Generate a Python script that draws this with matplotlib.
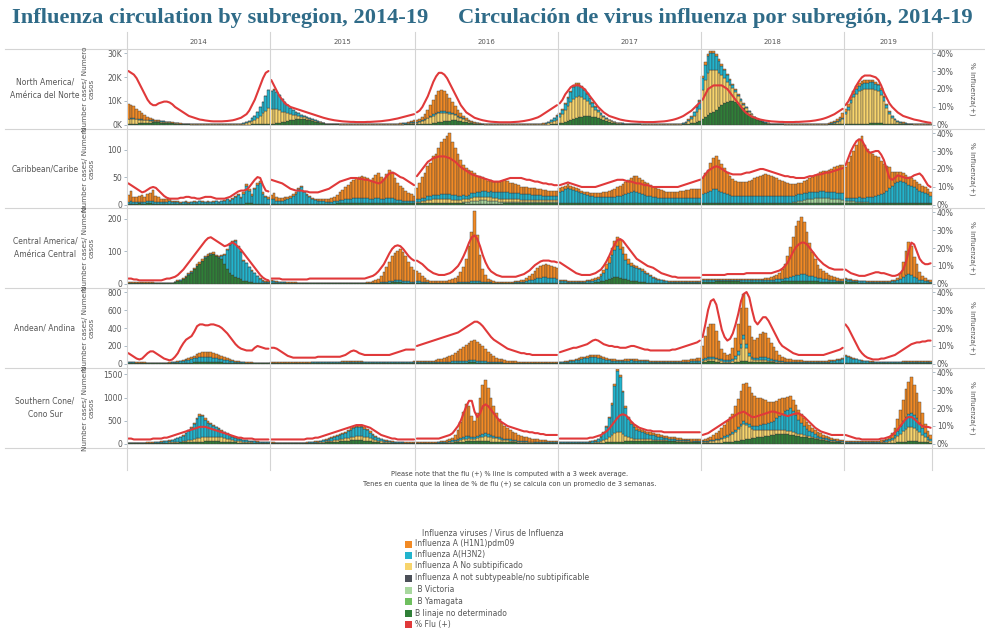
import numpy as np
import matplotlib.pyplot as plt
from matplotlib.lines import Line2D
from matplotlib.patches import Rectangle

# ---------------- data (weekly) ----------------
years = ['2014', '2015', '2016', '2017', '2018', '2019']
weeks_per_year = [52, 53, 52, 52, 52, 32]
week_ticks = [3, 7, 11, 15, 19, 23, 27, 31, 35, 39, 43, 47, 51]

# North America, thousands of cases
na_aunk = [
    [2.0,2.0,1.9,1.7,1.5,1.3,1.1,0.9,0.8,0.6, 0.5,0.5,0.4,0.4,0.3,0.3,0.2,0.2,0.2,0.1, 0.1,0.1,0.1,0.1,0.1,0.1,0.1,0.1,0.1,0.1, 0.1,0.1,0.1,0.1,0.1,0.1,0.1,0.1,0.1,0.1, 0.2,0.3,0.4,0.6,0.9,1.3,1.9,2.7,3.6,4.6, 5.6,6.4],
    [6.0,6.2,5.8,5.2,4.5,3.8,3.1,2.5,2.0,1.6, 1.3,1.0,0.8,0.6,0.5,0.4,0.3,0.3,0.2,0.2, 0.1,0.1,0.1,0.1,0.1,0.1,0.1,0.1,0.1,0.1, 0.1,0.1,0.1,0.1,0.1,0.1,0.1,0.1,0.1,0.1, 0.1,0.1,0.1,0.1,0.1,0.2,0.2,0.3,0.3,0.4, 0.5,0.6,0.7],
    [0.8,1.0,1.3,1.7,2.2,2.7,3.2,3.6,3.8,3.8, 3.6,3.3,2.9,2.5,2.1,1.7,1.4,1.1,0.8,0.6, 0.4,0.3,0.3,0.2,0.2,0.1,0.1,0.1,0.1,0.1, 0.1,0.1,0.1,0.1,0.1,0.1,0.1,0.1,0.1,0.1, 0.1,0.1,0.1,0.1,0.1,0.2,0.3,0.4,0.6,0.9, 1.3,1.8],
    [2.5,3.5,4.8,6.2,7.5,8.5,9.0,8.8,8.2,7.3, 6.2,5.1,4.1,3.2,2.5,1.9,1.4,1.0,0.7,0.5, 0.4,0.3,0.2,0.2,0.2,0.1,0.1,0.1,0.1,0.1, 0.1,0.1,0.1,0.1,0.1,0.1,0.1,0.1,0.1,0.1, 0.1,0.1,0.1,0.1,0.1,0.4,0.6,1.0,1.7,2.6, 3.8,5.0],
    [12,15.5,17.5,18,17.5,16.5,14.5,12.5,10.5,8.5, 6.8,5.3,4.0,3.0,2.2,1.6,1.2,0.9,0.7,0.5, 0.4,0.3,0.3,0.2,0.2,0.1,0.1,0.1,0.1,0.1, 0.1,0.1,0.1,0.1,0.1,0.1,0.1,0.1,0.1,0.1, 0.1,0.1,0.1,0.1,0.1,0.2,0.3,0.4,0.6,0.9, 1.3,1.8],
    [4,6,8.5,11,12.5,13.5,14,14.5,14.5,14.5, 14.5,14,13.5,12,9.5,6.5,4,2.5,1.5,1, 0.7,0.5,0.4,0.3,0.3,0.2,0.2,0.2,0.1,0.1, 0.1,0.1],
]
na_h3 = [
    [0.3,0.3,0.3,0.3,0.2,0.2,0.2,0.2,0.2,0.2, 0.1,0.1,0.1,0.1,0.1,0.1,0.1,0.1,0.1,0.1, 0,0,0,0,0,0,0,0,0,0, 0,0,0,0,0,0,0,0,0,0, 0.1,0.2,0.3,0.5,0.8,1.2,1.8,2.6,3.6,4.8, 6.2,7.6],
    [7.5,7.8,7.2,6.3,5.3,4.3,3.4,2.6,2.0,1.5, 1.1,0.8,0.6,0.4,0.3,0.2,0.2,0.1,0.1,0.1, 0,0,0,0,0,0,0,0,0,0, 0,0,0,0,0,0,0,0,0,0, 0,0,0,0,0,0.1,0.1,0.1,0.2,0.2, 0.3,0.3,0.4],
    [0.3,0.3,0.3,0.4,0.4,0.5,0.5,0.6,0.6,0.6, 0.6,0.5,0.5,0.4,0.4,0.3,0.3,0.2,0.2,0.2, 0.1,0.1,0.1,0.1,0.1,0,0,0,0,0, 0,0,0,0,0,0,0,0,0,0, 0,0,0,0,0,0.1,0.2,0.3,0.5,0.8, 1.2,1.7],
    [1.2,1.8,2.6,3.4,4.2,4.8,5.0,4.8,4.3,3.7, 3.0,2.3,1.7,1.2,0.9,0.6,0.4,0.3,0.2,0.2, 0.1,0.1,0.1,0.1,0.1,0,0,0,0,0, 0,0,0,0,0,0,0,0,0,0, 0,0,0,0,0,0.2,0.4,0.7,1.1,1.7, 2.4,3.2],
    [5,6.5,7.2,7.2,6.8,6,5,4.1,3.3,2.6, 2.0,1.5,1.1,0.8,0.6,0.4,0.3,0.2,0.2,0.1, 0.1,0.1,0.1,0.1,0.1,0,0,0,0,0, 0,0,0,0,0,0,0,0,0,0, 0,0,0,0,0,0.1,0.1,0.2,0.3,0.4, 0.5,0.7],
    [0.8,1.0,1.3,1.6,1.9,2.2,2.4,2.5,2.6,2.6, 2.6,2.5,2.3,2.0,1.6,1.2,0.9,0.6,0.4,0.3, 0.2,0.2,0.1,0.1,0.1,0.1,0.1,0.1,0.1,0.1, 0.1,0.1],
]
na_h1 = [
    [6.0,5.6,5.0,4.2,3.4,2.6,1.9,1.3,0.9,0.6, 0.4,0.3,0.2,0.2,0.1,0.1,0.1,0.1,0.1,0.1, 0,0,0,0,0,0,0,0,0,0, 0,0,0,0,0,0,0,0,0,0, 0,0,0,0,0,0,0,0,0,0, 0,0],
    [0.2,0.2,0.2,0.1,0.1,0.1,0.1,0.1,0.1,0.1, 0,0,0,0,0,0,0,0,0,0, 0,0,0,0,0,0,0,0,0,0, 0,0,0,0,0,0,0,0,0,0, 0,0,0,0,0,0.05,0.1,0.1,0.2,0.2, 0.3,0.4,0.5],
    [0.7,1.0,1.5,2.2,3.2,4.5,6.0,7.5,8.5,8.8, 8.3,7.3,6.0,4.6,3.4,2.4,1.7,1.2,0.8,0.5, 0.3,0.2,0.2,0.1,0.1,0,0,0,0,0, 0,0,0,0,0,0,0,0,0,0, 0,0,0,0,0,0.1,0.1,0.1,0.1,0.2, 0.2,0.3],
    [0.3,0.3,0.4,0.4,0.5,0.5,0.5,0.5,0.4,0.4, 0.3,0.3,0.2,0.2,0.1,0,0,0,0,0, 0,0,0,0,0,0,0,0,0,0, 0,0,0,0,0,0,0,0,0,0, 0,0,0,0,0,0.1,0.1,0.1,0.2,0.2, 0.3,0.3],
    [0.8,0.9,1.0,1.0,1.0,0.9,0.8,0.7,0.6,0.5, 0.4,0.3,0.3,0.2,0.2,0.1,0.1,0.1,0.1,0.1, 0,0,0,0,0,0,0,0,0,0, 0,0,0,0,0,0,0,0,0,0, 0,0,0,0,0,0.1,0.2,0.3,0.5,0.8, 1.2,1.7],
    [1.5,1.4,1.3,1.2,1.2,1.2,1.2,1.2,1.2,1.1, 1.0,0.9,0.7,0.6,0.5,0.4,0.3,0.2,0.1,0.1, 0.1,0.1,0,0,0,0,0,0,0,0, 0,0],
]
na_bnd = [
    [0.3,0.4,0.5,0.6,0.7,0.8,0.9,1.0,1.0,1.1, 1.1,1.1,1.0,1.0,0.9,0.8,0.7,0.6,0.5,0.4, 0.3,0.25,0.2,0.15,0.1,0.1,0.1,0.1,0.1,0.1, 0.1,0.1,0.1,0.1,0.1,0.1,0.1,0.1,0.1,0.1, 0.1,0.1,0.1,0.1,0.15,0.2,0.2,0.25,0.3,0.35, 0.4,0.5],
    [0.5,0.6,0.7,0.9,1.1,1.4,1.7,2.0,2.2,2.4, 2.5,2.5,2.4,2.2,2.0,1.7,1.4,1.1,0.9,0.7, 0.5,0.4,0.3,0.25,0.2,0.15,0.1,0.1,0.1,0.1, 0.1,0.1,0.1,0.1,0.1,0.1,0.1,0.1,0.1,0.1, 0.1,0.1,0.1,0.1,0.1,0.1,0.1,0.15,0.15,0.2, 0.2,0.25,0.3],
    [0.2,0.2,0.3,0.4,0.5,0.6,0.7,0.9,1.1,1.3, 1.5,1.7,1.8,1.9,1.9,1.8,1.6,1.4,1.1,0.9, 0.7,0.5,0.4,0.3,0.2,0.1,0.1,0.1,0.1,0.1, 0.1,0.1,0.1,0.1,0.1,0.1,0.1,0.1,0.1,0.1, 0.1,0.1,0.1,0.1,0.1,0.1,0.1,0.1,0.1,0.2, 0.2,0.3],
    [0.8,1.0,1.3,1.6,2.0,2.4,2.8,3.2,3.5,3.7, 3.8,3.7,3.5,3.2,2.8,2.4,2.0,1.6,1.3,1.0, 0.8,0.6,0.5,0.4,0.3,0.2,0.2,0.2,0.2,0.2, 0.1,0.1,0.1,0.1,0.1,0.1,0.1,0.1,0.1,0.1, 0.1,0.1,0.1,0.1,0.1,0.2,0.3,0.5,0.7,1.0, 1.4,1.8],
    [2.5,3.2,4.0,4.8,5.6,6.4,7.3,8.2,9.0,9.6, 10.0,10.0,9.6,8.9,8.0,6.9,5.8,4.7,3.7,2.8, 2.1,1.5,1.1,0.8,0.6,0.4,0.3,0.3,0.2,0.2, 0.1,0.1,0.1,0.1,0.1,0.1,0.1,0.1,0.1,0.1, 0.1,0.1,0.1,0.1,0.1,0.1,0.2,0.2,0.3,0.4, 0.5,0.6],
    [0.4,0.4,0.5,0.5,0.5,0.6,0.6,0.6,0.6,0.7, 0.7,0.7,0.7,0.7,0.6,0.6,0.5,0.5,0.4,0.4, 0.3,0.3,0.2,0.2,0.2,0.1,0.1,0.1,0.1,0.1, 0.1,0.1],
]
na_pct = [
    [30,29,28,26,23,20,17,14,12,11, 11,12,12.5,13,13,12.5,11.5,10,9,8, 7,6,5,4.5,4,3.5,3,2.8,2.5,2.3, 2.1,2,2,2,2,2.1,2.2,2.4,2.6,3, 3.5,4,5,6,8,11,14,18,22,26, 29,30],
    [25,22,19,16,14,12,11,10,9.5,9, 8.5,8,7.5,7,6.5,6,5.5,5,4.5,4, 3.6,3.2,2.9,2.6,2.4,2.2,2,1.9,1.8,1.7, 1.7,1.6,1.6,1.6,1.6,1.7,1.7,1.8,1.9,2, 2.1,2.3,2.5,2.7,3,3.3,3.6,4,4.4,4.8, 5.2,5.6,6],
    [7,8,10,13,16,20,24,27,29,29, 28,26,23,20,17,14,11,9,7,6, 5,4,3.5,3,2.6,2.3,2,1.8,1.7,1.6, 1.5,1.5,1.5,1.5,1.5,1.6,1.7,1.8,2,2.2, 2.5,2.8,3.2,3.7,4.2,5,6,7,8,9, 10,11],
    [12,14,17,19,21,22,22,22,21,20, 18,16,14,12,10,8.5,7,6,5,4.5, 4,3.5,3,2.7,2.4,2.2,2,1.9,1.8,1.7, 1.7,1.6,1.6,1.6,1.6,1.7,1.8,1.9,2,2.2, 2.5,2.8,3.2,3.7,4.3,5,6,7,8,9.5, 11,12.5],
    [14,17,20,21,22,22,22,22,21,20, 18,16,14,12,10,8,6.5,5.5,4.5,4, 3.5,3,2.7,2.4,2.2,2,1.9,1.8,1.7,1.7, 1.6,1.6,1.6,1.6,1.7,1.7,1.8,1.9,2,2.1, 2.3,2.5,2.8,3.1,3.5,4,4.6,5.3,6,7, 8,9],
    [11,13,16,19,22,24.5,26.5,27.5,27.5,27.5, 27,26.5,25,22,18,15,12,10,8.5,7, 6,5,4.5,4,3.5,3,2.7,2.4,2,1.7, 1.4,1.2],
]

# Caribbean, cases
cb_h1 = [
    [12,18,10,8,10,12,9,11,15,20, 10,8,6,5,4,3,2,2,2,1, 1,1,1,1,1,1,1,1,1,1, 1,1,1,1,1,1,1,1,2,2, 2,2,3,3,3,3,3,4,4,3, 3,3],
    [8,10,7,6,5,5,4,4,3,3, 3,3,2,2,2,2,2,2,3,3, 4,5,6,8,10,14,18,22,26,30, 34,36,38,40,38,36,34,38,42,45, 40,36,44,50,48,38,30,26,22,18, 14,12,10],
    [20,28,38,45,55,60,70,75,85,95, 100,105,110,95,85,75,65,55,50,45, 40,35,30,28,25,22,20,20,18,18, 18,20,22,20,18,18,16,15,14,14, 13,12,12,12,11,10,10,10,9,9, 8,8],
    [8,8,7,7,6,6,6,5,5,5, 5,5,5,6,6,7,8,9,10,12, 14,16,18,20,22,24,26,28,30,28, 26,24,22,20,18,16,15,14,13,12, 12,12,12,12,13,13,14,14,15,15, 16,16],
    [30,35,40,50,55,60,55,50,45,40, 35,30,28,26,25,25,26,28,30,32, 34,36,38,40,38,36,34,32,30,28, 26,24,22,20,20,20,20,22,24,26, 28,30,32,34,36,38,40,42,45,48, 50,52],
    [55,65,75,85,95,105,112,95,88,82, 78,72,68,60,52,45,38,25,20,18, 16,15,15,14,14,13,12,12,11,10, 10,8],
]
cb_h3 = [
    [4,5,3,4,3,4,3,5,4,5, 4,4,3,4,5,6,4,5,4,3, 4,5,3,4,5,4,6,5,4,5, 4,5,6,4,5,7,8,6,9,12, 16,10,18,32,22,14,26,34,38,18, 12,9],
    [8,9,6,5,6,7,8,10,14,18, 26,30,22,16,12,9,7,6,5,5, 4,4,4,5,5,6,6,7,7,8, 8,8,9,9,8,8,7,7,8,8, 7,7,8,9,8,7,6,6,5,5, 5,4,4],
    [5,5,6,6,7,7,8,8,8,9, 9,10,10,9,9,8,8,8,7,7, 8,8,9,9,10,10,10,11,11,12, 12,12,13,12,12,12,11,11,10,10, 10,10,9,9,9,9,8,8,8,8, 8,8],
    [20,22,25,28,26,24,22,20,18,16, 15,14,13,12,12,12,12,12,12,12, 12,13,14,15,16,18,20,22,20,18, 16,15,14,13,12,11,10,10,9,9, 9,9,9,9,9,10,10,10,10,10, 10,10],
    [15,18,20,22,25,25,22,20,18,16, 14,13,12,12,12,12,12,12,12,12, 12,12,12,12,12,12,12,12,12,12, 12,12,12,12,12,12,12,12,12,12, 12,12,12,12,12,12,12,12,12,12, 12,12],
    [5,5,6,6,7,8,8,8,9,10, 10,12,14,16,18,22,26,30,35,38, 40,38,35,32,30,28,25,22,20,18, 15,12],
]
cb_aunk = [
    [],
    [],
    [3,3,4,4,5,5,6,6,6,6, 6,6,6,5,5,5,5,5,5,5, 6,6,6,6,6,6,6,6,5,5, 5,5,5,5,5,5,5,5,4,4, 4,4,4,4,4,4,4,4,4,4, 4,4],
    [],
    [],
    [],
]
cb_bvic = [
    [],
    [],
    [0,0,0,0,0,0,0,0,0,0, 0,0,0,0,0,0,1,2,3,4, 5,6,6,7,7,7,6,6,5,5, 4,4,3,3,2,2,1,1,1,1, 1,1,1,1,1,1,1,1,1,1, 1,1],
    [],
    [1,1,1,1,1,1,1,1,1,1, 1,1,1,1,1,1,1,1,1,1, 1,1,1,1,1,1,1,1,1,1, 1,1,1,2,3,4,5,6,7,8, 8,9,9,10,10,9,9,8,8,7, 7,6],
    [5,5,4,4,3,3,2,2,2,1, 1,1,1,1,1,1,1,1,1,1, 1,1,1,1,1,1,1,1,1,1, 1,1],
]
cb_bnd = [
    [2,2,2,2,3,2,2,3,3,2, 2,2,2,1,1,1,1,1,1,1, 1,1,1,1,1,1,1,1,1,1, 1,1,1,1,2,1,2,2,2,2, 2,2,2,3,3,3,2,2,2,2, 2,2],
    [2,2,2,2,2,2,2,2,2,2, 2,2,2,2,2,2,2,2,2,2, 2,2,2,2,3,3,3,3,3,3, 4,4,4,4,4,4,4,4,4,4, 4,4,4,4,4,3,3,3,3,3, 3,3,3],
    [3,3,3,3,4,4,4,4,4,4, 4,4,4,4,4,4,3,3,2,2, 2,2,2,2,2,2,2,2,2,2, 2,2,3,3,3,3,4,4,4,4, 4,4,4,4,4,4,4,4,4,4, 4,4],
    [3,3,3,3,3,3,3,3,3,3, 3,3,3,3,3,3,3,3,3,3, 3,3,3,3,3,3,3,3,3,3, 3,3,3,3,3,3,3,3,3,3, 3,3,3,3,3,3,3,3,3,3, 3,3],
    [3,3,3,3,3,3,3,3,3,3, 3,3,3,3,3,3,3,3,3,3, 3,3,3,3,3,3,3,3,3,3, 3,3,3,3,3,3,3,3,3,3, 3,3,3,3,3,3,3,3,3,3, 3,3],
    [3,3,3,3,3,3,3,3,3,3, 3,3,3,3,3,3,3,3,3,3, 3,3,3,3,3,3,3,3,3,3, 3,3],
]
cb_pct = [
    [12,11,10,9,8,7,7.5,8.5,9.5,10, 9.5,8,6.5,5,4,3.5,3.5,3.5,3.5,4, 4,4.5,4.5,4,4,3.5,3.5,4,4.5,4.5, 4.5,4,3.5,3.5,3.5,3.5,4,4.5,5.5,6.5, 7.5,8,8,8.5,10,12,14,15.5,15,11, 8,7.5],
    [14,13.5,13,12.5,12,11,10,9,8.5,8, 8,8,7.5,7.5,7,7,7,7,7.5,8, 8.5,9,10,11,12,13,13.5,14,14.5,15, 15,15,14.5,14.5,14,14,13.5,13,12.5,12, 12.5,14,16,17.5,18,17.5,16.5,15.5,15,14, 13,12,11],
    [16,18,20,22,24,25,26,26.5,27,27, 27,26.5,26,25,24,22.5,21,20,19,18, 17,16.5,16,15.5,15,14.5,14,13.5,13,13, 13,13.5,14,14.5,15,15,15,15,15,14.5, 14,14,13.5,13,13,12.5,12,12,11.5,11.5, 11,11],
    [11,11.5,12,12.5,12,11.5,11,10.5,10,10, 10,10,10,10,10.5,11,11.5,12,12.5,13, 13.5,14,14,14,13.5,13,13,12.5,12,12, 11.5,11,11,10.5,10,10,10,10,10,10, 10,10,10,10,10.5,11,11.5,12,12.5,13, 13.5,14],
    [15,17,19,20,21,21.5,21,20,19,18, 17.5,17,17,17,17,17.5,18,18,18.5,19, 19.5,20,20,19.5,19,18.5,18,17.5,17,16.5, 16,16,15.5,15.5,15,15,15,15,15.5,16, 16,16.5,17,17,17.5,18,18,18.5,19,19.5, 20,20.5],
    [22,26,30,33,35.5,36.5,36,33,30,29, 29.5,30,30,28,25,20,15,14,15,16.5, 16,15.5,15,15,15.5,16.5,17,17.5,16,13.5, 11,10],
]

# Central America, cases
ca_h1 = [
    [3,3,2,2,2,1,1,1,1,1, 1,1,1,1,1,1,1,1,2,2, 2,3,3,3,4,4,5,5,5,5, 4,4,4,3,3,3,3,3,3,3, 2,2,2,2,2,2,2,2,2,2, 2,2],
    [1,1,1,1,1,1,1,1,1,1, 1,1,1,1,1,1,1,1,1,1, 1,1,1,1,1,1,1,1,1,1, 1,1,1,1,1,2,3,5,8,12, 20,30,45,60,75,85,90,95,88,75, 60,45,35],
    [30,25,18,12,8,6,5,5,5,5, 5,6,8,10,15,20,30,45,70,110, 150,215,140,80,40,20,10,6,4,3, 3,3,3,3,3,3,3,4,5,6, 8,12,18,25,30,35,38,40,38,36, 34,32],
    [4,4,4,3,3,3,3,3,3,3, 3,3,4,5,6,8,10,14,18,22, 25,28,26,22,18,14,10,8,6,5, 4,4,3,3,3,3,2,2,2,2, 2,2,2,2,2,2,2,2,2,2, 2,2],
    [2,2,2,2,2,2,2,2,2,2, 2,2,2,2,2,2,2,2,3,3, 3,4,4,5,6,8,10,14,20,30, 45,65,90,120,150,165,175,160,130,100, 75,55,40,30,25,20,15,12,10,8, 6,5],
    [3,3,3,2,2,2,2,2,2,2, 2,2,2,2,2,2,2,3,4,8, 20,45,75,100,90,60,45,25,12,8, 5,4],
]
ca_h3 = [
    [2,2,2,2,2,2,2,2,2,2, 1,1,1,1,1,1,1,1,1,1, 1,1,1,1,1,1,1,1,1,1, 1,1,1,2,10,30,60,85,100,110, 95,85,60,55,45,35,28,20,12,8, 5,4],
    [8,6,5,4,3,3,2,2,2,2, 1,1,1,1,1,1,1,1,1,1, 1,1,1,1,1,1,1,1,1,1, 1,1,1,1,1,1,1,1,1,2, 2,3,3,4,5,6,6,7,6,5, 5,4,4],
    [6,5,4,3,3,2,2,2,2,2, 2,2,2,2,2,3,3,3,4,4, 5,5,5,4,4,3,3,2,2,2, 2,2,2,2,2,2,3,3,4,5, 6,8,10,12,14,15,16,16,15,14, 13,12],
    [5,5,5,4,4,4,4,4,4,4, 5,5,6,8,10,15,22,35,50,70, 85,95,90,75,60,50,45,42,40,38, 35,30,25,20,15,12,10,8,6,5, 4,4,3,3,3,3,3,3,3,3, 3,3],
    [6,6,6,5,5,5,5,5,5,5, 5,5,5,5,5,5,5,5,6,6, 6,6,6,6,6,6,7,7,8,8, 9,10,12,14,16,18,20,20,18,16, 14,12,11,10,9,8,7,6,6,5, 5,5],
    [6,5,5,4,4,4,4,4,4,4, 4,4,4,4,4,4,4,5,6,8, 12,18,22,25,22,18,14,10,8,6, 5,4],
]
ca_bnd = [
    [2,2,2,2,2,2,2,2,2,2, 2,2,2,2,2,2,2,5,8,10, 15,20,28,35,45,55,60,70,80,85, 90,92,85,80,75,60,45,35,28,22, 18,14,10,8,6,5,4,3,3,2, 2,2],
    [2,2,2,2,2,2,2,2,2,2, 2,2,2,2,2,2,2,2,2,2, 2,2,2,2,2,2,2,2,2,2, 2,2,2,2,2,2,2,2,2,2, 3,3,4,4,5,5,5,5,4,4, 3,3,3],
    [3,3,3,2,2,2,2,2,2,2, 2,2,2,2,2,2,3,3,3,3, 4,4,4,4,3,3,3,3,2,2, 2,2,2,2,2,2,2,2,2,2, 3,3,3,3,4,4,4,4,4,4, 4,4],
    [3,3,3,3,3,3,3,3,3,3, 3,3,4,5,6,8,10,12,15,18, 20,20,18,16,14,12,10,9,8,7, 6,5,4,4,3,3,3,3,3,3, 3,3,3,3,3,3,3,3,3,3, 3,3],
    [6,6,7,7,7,8,8,8,8,8, 8,8,8,8,7,7,7,7,6,6, 6,6,6,6,6,6,6,7,7,8, 8,9,10,10,10,10,10,10,10,9, 9,8,8,7,7,6,6,6,5,5, 5,5],
    [8,7,6,5,5,4,4,4,3,3, 3,3,3,3,3,3,3,3,3,3, 3,3,4,4,4,3,3,3,3,3, 3,3],
]
ca_pct = [
    [3,3,2.5,2.5,2,2,2,2,2,2, 2,2,2,2.5,3,3,3.5,4,5,6.5, 8,10,12,14,16,18,20,22,24,25.5, 26,25,24,23,22,21,21.5,22.5,23,22, 20.5,19,17,15,13,11,9,7,5,3.5, 2.5,2],
    [3,3,3,3,2.5,2.5,2.5,2.5,2.5,2.5, 2.5,2.5,2.5,2.5,3,3,3,3,3,3, 3,3,3,3,3,3,3,3,3,3, 3,3,3,3,3,3.5,4,4.5,5.5,7, 9,11,14,17,19.5,21,21.5,21,19.5,17.5, 15.5,14,13],
    [13,12,11,9.5,8,7,6,5.5,5,5, 5,5.5,6,7,8.5,10,12.5,15.5,19,23, 26,27,25,21,16,12,9,7,6,5, 4.5,4,4,4,4,4,4,4.5,5,5.5, 6.5,7.5,9,10.5,11.5,12.5,13,13,13,12.5, 12.5,12],
    [12,11,10,9,8,7,6,5.5,5,5, 5,5,5.5,6,7,8,10,12.5,15.5,19, 22,24.5,25,24,22,20,18,16,14,13, 12,11,10,9.5,9,8,7,6,5.5,5, 4.5,4,4,3.5,3.5,3.5,3.5,3.5,3.5,3.5, 3.5,3.5],
    [5,5,5,5,5,5,5,5,5,5.5, 5.5,5.5,5.5,5.5,5.5,5.5,6,6,6,6, 6,6,6,6,6,6,6.5,7,7.5,8.5, 10,12,15,18,20.5,22,23,23,22,20, 18,16,14,12.5,11,10,9,8.5,8,8, 8,8],
    [8,7,6,5.5,5,4.5,4.5,4.5,5,5.5, 6,6.5,6.5,6,6,5.5,5,4.5,4.5,5, 6,8,12,18,23,22,18,14,12,11, 11,11.5],
]

# Andean, cases
an_h1 = [
    [5,5,4,4,4,3,3,3,3,3, 3,3,3,3,3,3,4,5,6,8, 10,14,18,24,30,38,45,50,55,55, 55,52,48,42,36,30,24,18,14,10, 8,6,5,4,4,3,3,3,3,3, 3,3],
    [4,4,4,4,4,4,5,5,5,5, 6,6,6,6,6,6,6,6,6,6, 6,6,6,6,6,6,7,8,9,10, 10,10,9,8,7,6,6,6,6,6, 6,6,6,6,6,6,6,7,8,8, 9,9,10],
    [10,10,12,14,16,18,20,25,30,35, 40,50,60,75,90,110,130,150,170,190, 210,220,210,190,170,140,110,85,65,50, 40,32,26,22,18,15,12,10,9,8, 7,7,6,6,6,6,6,6,6,6, 6,6],
    [6,6,7,8,9,10,12,14,16,18, 20,24,28,30,28,24,20,18,16,15, 14,14,14,15,16,17,18,17,16,15, 14,13,12,11,10,10,10,10,10,10, 10,11,12,13,14,16,18,20,22,25, 28,30],
    [150,250,330,370,360,300,200,120,80,60, 70,120,200,300,400,450,400,300,220,200, 220,260,280,270,230,180,140,100,70,50, 40,30,25,20,18,15,14,12,12,12, 12,12,12,12,12,12,12,12,12,12, 12,12],
    [10,8,7,6,5,5,4,4,4,4, 4,4,4,4,4,4,5,5,6,6, 7,8,10,12,14,15,16,16,16,16, 15,15],
]
an_h3 = [
    [8,8,7,6,6,5,5,5,5,5, 5,5,5,5,5,6,8,10,14,18, 22,28,34,40,46,52,56,58,60,58, 55,50,45,40,35,30,26,22,18,15, 12,10,8,7,6,6,5,5,5,5, 5,5],
    [6,6,6,6,6,6,6,6,6,6, 7,7,7,7,8,8,8,8,8,8, 9,9,9,10,10,10,11,12,13,14, 14,14,13,12,11,10,10,10,10,10, 10,10,10,10,10,10,10,10,10,10, 10,10,10],
    [10,10,10,10,10,10,10,12,12,14, 14,16,16,18,18,20,20,22,22,24, 24,24,22,20,18,16,14,12,10,10, 8,8,8,8,8,8,8,8,8,8, 8,8,8,8,8,8,8,8,8,8, 8,8],
    [10,12,14,16,20,24,30,36,42,48, 54,58,60,58,54,48,42,36,32,28, 26,24,24,24,26,28,30,28,26,24, 22,20,18,16,15,14,13,12,12,12, 12,12,12,12,12,13,14,15,16,18, 20,22],
    [20,20,20,20,20,20,20,20,20,20, 20,25,30,35,40,45,40,35,30,30, 30,30,30,30,25,20,18,16,14,12, 10,10,10,10,10,10,10,10,10,10, 10,10,10,10,10,10,12,14,18,24, 30,40],
    [80,70,60,50,40,32,26,22,18,16, 14,12,12,10,10,10,10,10,10,10, 10,10,10,10,10,10,10,10,10,10, 10,10],
]
an_aunk = [
    [],
    [],
    [],
    [],
    [10,20,30,30,30,25,20,15,10,10, 10,20,40,80,150,250,150,60,30,20, 20,20,20,20,15,10,10,8,6,5, 5,5,5,5,5,5,5,5,5,5, 5,5,5,5,5,5,5,5,5,5, 5,5],
    [],
]
an_bnd = [
    [10,10,10,10,9,9,9,8,8,8, 8,8,8,8,8,8,9,10,11,12, 13,14,15,16,17,18,19,20,20,20, 20,20,19,18,17,16,15,14,13,12, 11,10,9,8,8,8,8,8,8,8, 8,8],
    [8,9,8,7,8,9,10,9,8,8, 8,8,8,8,8,9,9,9,9,10, 10,10,10,10,10,10,10,10,10,10, 10,10,9,9,9,9,9,9,8,8, 8,8,8,8,8,8,8,8,8,8, 8,8,8],
    [8,8,8,8,8,8,8,8,8,8, 8,10,10,12,12,14,14,16,16,18, 18,18,16,16,14,14,12,12,10,10, 10,10,8,8,8,8,8,8,8,8, 8,8,8,8,8,8,8,8,8,8, 8,8],
    [8,8,8,8,10,10,12,12,14,14, 16,16,16,16,14,14,12,12,10,10, 10,10,10,10,10,10,10,10,10,10, 10,10,10,10,10,10,10,10,10,10, 10,10,10,10,10,10,10,10,12,12, 14,14],
    [20,25,30,30,30,25,20,15,12,12, 12,15,20,25,30,30,28,25,22,20, 20,22,24,24,22,20,18,16,14,12, 10,10,10,10,10,10,10,10,10,10, 10,10,10,10,10,10,10,10,10,10, 10,10],
    [10,10,10,10,10,10,10,10,10,10, 10,10,10,10,10,10,10,10,10,10, 10,10,10,10,10,10,10,10,10,10, 10,10],
]
an_pct = [
    [6,5,4,3,2.5,3,4.5,6,7,7, 6,5,4,3,2.5,2,2.5,4,6,9, 11.5,13.5,14.5,15.5,18,21,22,22,21.5,21.5, 22,22,21.5,21,20,18.5,17,15,13,11, 9.5,8.5,8,7.5,7.5,7.5,9,10,9.5,9, 8.5,8.5],
    [9,9,8.5,7.5,6.5,5.5,4.5,4,3.5,3.5, 3.5,3.5,3.5,3.5,3.5,3.5,3.5,4,4,4, 4,4,4,4,4,4,4.5,5,6,7, 7.5,7,6,5.5,5,5,5,5,5,5, 5,5,5,5,5.5,6,6.5,7,7.5,8, 8,8,8],
    [10,10.5,11,11.5,12,12.5,13,13.5,14,14.5, 15,15.5,16,16.5,17,17.5,18.5,19.5,20.5,21.5, 22.5,23.5,23.5,22.5,21,19,17,15,13.5,12.5, 11.5,10.5,9.5,8.5,8,7.5,7,6.5,6,6, 5.5,5.5,5,5,5,5,5,5,5,5, 5,5],
    [6.5,7,7.5,8,8.5,9,9,9.5,10,10.5, 11,12,13,13.5,13,12,11,10.5,10,10, 9.5,9.5,9,9,9,9.5,10,10,9.5,9, 8.5,8,8,7.5,7.5,7.5,7.5,7.5,7.5,7.5, 7.5,8,8,8.5,9,9.5,10,10.5,11,11.5, 12,13],
    [15,22,30,35,36,33,26,19,15,13, 14,17,22,28,35,39,40,37,30,24, 22,24,26,26,24,21,18,15,12,10, 9,8,7,6,5.5,5,5,5,5,5, 5,5,5,5,5,5.5,6,6.5,7,7.5, 8,9],
    [22,20,17,14,11,8,6,4.5,3.5,3, 2.5,2.5,2.5,3,3,3.5,4,4.5,5,6, 7,8,9,10,11,11.5,12,12,12.5,12.5, 13,13],
]

# Southern Cone, cases
sc_h1 = [
    [5,5,5,5,5,5,5,5,5,5, 5,5,5,5,5,5,6,8,10,12, 14,16,18,20,22,24,25,25,25,24, 22,20,18,16,14,12,10,9,8,7, 6,6,5,5,5,5,5,5,5,5, 5,5],
    [5,5,5,5,5,5,5,5,5,5, 5,5,5,5,5,6,7,8,10,12, 14,16,18,20,22,24,26,28,30,32, 34,36,38,36,34,30,26,22,18,15, 12,10,9,8,7,6,6,5,5,5, 5,5,5],
    [10,10,10,10,10,10,12,14,16,20, 25,30,40,60,100,200,350,550,700,650, 450,350,500,800,1050,1150,1000,800,650,500, 400,330,280,240,200,170,150,130,110,95, 85,75,70,65,60,55,50,45,40,38, 35,32],
    [15,15,15,15,15,15,15,15,15,15, 15,15,15,15,15,15,20,25,30,35, 40,40,40,40,40,40,40,45,50,55, 60,60,60,55,50,50,50,50,45,45, 40,40,40,35,35,30,30,30,30,30, 30,30],
    [30,40,60,80,100,130,160,200,250,300, 350,400,500,600,700,800,850,800,700,650, 600,600,550,500,450,420,400,380,350,330, 300,280,260,240,220,200,180,160,140,120, 100,90,80,70,60,50,45,40,35,30, 30,30],
    [20,20,20,20,20,20,20,20,20,20, 20,20,20,25,30,40,60,90,140,250, 350,450,600,700,780,650,550,450,320,200, 120,80],
]
sc_h3 = [
    [10,10,10,10,10,10,10,12,14,16, 18,20,24,28,32,38,45,55,70,90, 120,160,200,260,330,420,480,450,380,320, 280,240,200,170,140,120,100,85,70,60, 50,45,40,35,30,28,25,22,20,18, 16,15],
    [12,12,10,10,10,10,10,10,10,10, 10,10,10,12,14,16,18,20,25,30, 40,50,60,70,80,90,100,120,140,160, 180,190,200,190,170,150,120,90,70,50, 40,35,30,25,20,18,16,15,14,13, 12,12,12],
    [12,12,12,12,12,12,12,12,12,14, 16,18,20,25,30,35,40,45,50,50, 45,40,45,55,60,60,55,50,45,40, 35,32,30,28,26,24,22,20,18,16, 15,14,13,12,12,12,12,12,12,12, 12,12],
    [15,15,15,15,15,15,15,15,15,15, 20,25,30,40,60,100,160,250,400,650, 1000,1300,1200,900,600,400,300,250,200,170, 150,130,110,100,90,80,70,60,55,50, 45,40,35,30,30,25,25,20,20,20, 20,20],
    [20,20,20,20,20,20,20,25,30,35, 40,45,50,55,60,60,60,65,70,80, 90,100,120,140,160,180,200,250,300,350, 400,450,500,450,380,300,250,200,150,120, 100,80,60,50,40,35,30,25,20,20, 20,20],
    [15,15,15,15,15,15,15,15,15,15, 15,15,15,15,20,25,35,50,80,120, 170,220,260,290,300,280,250,200,150,100, 60,40],
]
sc_aunk = [
    [5,5,5,5,5,5,5,5,5,5, 6,7,8,9,10,12,14,16,18,20, 25,30,40,50,60,70,80,90,90,85, 90,95,100,95,90,80,70,60,50,40, 35,30,25,22,20,18,16,14,12,10, 10,10],
    [5,5,5,5,5,5,5,5,5,5, 5,5,5,6,7,8,10,12,15,18, 22,26,30,35,40,45,50,55,60,70, 80,90,95,90,85,75,65,55,45,35, 28,22,18,15,12,10,9,8,7,6, 5,5,5],
    [5,5,5,5,5,5,5,5,6,8, 10,12,15,20,25,30,40,50,60,60, 55,50,60,80,100,110,100,90,80,70, 60,50,45,40,35,30,25,22,20,18, 16,14,12,10,10,10,10,10,10,10, 10,10],
    [5,5,5,5,5,5,5,5,5,5, 5,8,10,15,20,30,50,80,120,160, 200,220,200,160,120,90,70,55,45,40, 35,30,28,26,24,22,20,18,16,15, 14,13,12,12,12,12,12,12,12,12, 12,12],
    [10,15,20,30,40,50,60,80,100,120, 140,160,200,250,300,350,300,250,200,180, 160,150,140,130,120,110,100,95,90,85, 80,75,70,65,60,55,50,45,40,35, 30,25,20,18,16,14,12,10,10,10, 10,10],
    [10,10,10,10,10,10,10,10,10,10, 10,10,10,15,20,30,40,60,90,130, 180,230,280,300,300,280,250,200,150,100, 60,40],
]
sc_bnd = [
    [10,10,10,10,10,10,10,10,10,10, 12,14,16,18,20,22,25,28,30,32, 35,38,40,42,45,48,50,52,55,56, 58,58,56,54,52,50,46,42,38,34, 30,26,22,20,18,16,14,12,12,12, 12,12],
    [10,10,10,10,10,10,10,10,10,10, 10,10,10,12,14,16,18,20,24,28, 32,36,40,45,50,55,60,65,70,75, 80,80,78,75,70,65,58,50,42,35, 30,25,20,18,16,14,12,12,12,12, 12,12,12],
    [10,10,10,10,10,10,10,12,14,16, 18,20,25,30,35,40,45,50,55,60, 60,60,60,60,60,58,55,52,50,48, 45,42,40,38,36,34,32,30,28,26, 24,22,20,18,16,15,14,13,12,12, 12,12],
    [12,12,12,12,12,12,12,12,12,12, 12,14,16,18,20,24,28,32,36,40, 44,48,50,52,54,56,58,60,62,64, 66,68,70,70,70,68,66,64,62,60, 58,56,54,52,50,48,46,44,42,40, 38,36],
    [30,30,30,30,30,30,30,30,35,40, 45,50,60,70,80,90,100,110,120,130, 140,150,160,170,180,190,200,210,220,220, 220,210,200,190,180,170,160,150,140,130, 120,110,100,90,80,70,60,50,45,40, 35,30],
    [20,20,20,20,20,20,20,20,20,20, 20,20,20,20,20,22,25,28,30,35, 40,45,50,55,60,60,55,50,45,40, 35,30],
]
sc_pct = [
    [3,3,2.5,2.5,2.5,2.5,2.5,2.5,2.5,3, 3,3,3,3.5,3.5,4,4.5,5,5.5,6, 6.5,7,7.5,8,8.5,9,9.5,9.5,9.5,9, 8.5,8,7.5,7,6.5,6,5.5,5,4.5,4, 3.5,3.5,3,3,3,3,2.5,2.5,2.5,2.5, 2.5,2.5],
    [2.5,2.5,2.5,2.5,2.5,2.5,2.5,2.5,2.5,2.5, 2.5,2.5,2.5,3,3,3,3.5,3.5,4,4.5, 5,5.5,6,6.5,7,7.5,8,8.5,9,9.5, 10,10.5,10.5,10.5,10,9.5,9,8,7,6, 5,4.5,4,3.5,3,3,2.5,2.5,2.5,2.5, 2.5,2.5,2.5],
    [3,3,3,3,3,3,3,3,3,3.5, 4,4.5,5,6,8,10,13,17,21,24, 24,18,15,17,21,22,21,19,17,15, 13,12,11,10,9.5,9,8.5,8,7.5,7, 7,6.5,6.5,6,6,5.5,5.5,5,5,5, 5,5],
    [3,3,3,3,3,3,3,3,3,3, 3,3.5,3.5,4,4.5,5,6,7,8.5,10.5, 12.5,14.5,16,16.5,16,14.5,12.5,11,10,9, 8.5,8,7.5,7.5,7,7,7,7,6.5,6.5, 6.5,6.5,6.5,6.5,6.5,6.5,6.5,6.5,6.5,6.5, 6.5,6.5],
    [5,5.5,6,7,8,9,10,11,12,13, 14,15,16,17,17.5,18,17,16,15,15, 15.5,16,16.5,17,17.5,18,18,17.5,17,16.5, 16,15.5,16,16.5,17,17,16,15,13.5,12, 10.5,9,8,7,6.5,6,5.5,5,5,5, 5,5],
    [5,4.5,4,3.5,3,3,2.5,2.5,2.5,2.5, 2.5,2.5,2.5,3,3,3.5,4,5,6.5,8, 10,12,14,15,15,14,12.5,11,10,9.5, 9.5,9],
]

# ---------------- styling ----------------
c_h1 = '#f28a24'
c_h3 = '#22b4cd'
c_aunk = '#f7d46c'
c_anst = '#4c5058'
c_bvic = '#a8d89e'
c_byam = '#6fbf5f'
c_bnd = '#2f7f37'
c_flu = '#e0393a'
grid_c = '#d4d4d4'
txt_c = '#555555'

W, H = 985, 633
fig = plt.figure(figsize=(W / 100, H / 100), dpi=100)


def fx(x):
    return x / W


def fy(y):
    return 1 - y / H


x0, x1 = 127, 932
row_tops = [49, 129, 208, 288, 368]
row_h = 80
n_weeks = sum(weeks_per_year)
year_start = np.concatenate([[0], np.cumsum(weeks_per_year)[:-1]])

rows = [
    ('North America/\nAmérica del Norte', [(na_bnd, c_bnd), (na_aunk, c_aunk), (na_h3, c_h3), (na_h1, c_h1)],
     na_pct, 30, [0, 10, 20, 30], ['0K', '10K', '20K', '30K']),
    ('Caribbean/Caribe', [(cb_bnd, c_bnd), (cb_bvic, c_bvic), (cb_aunk, c_aunk), (cb_h3, c_h3), (cb_h1, c_h1)],
     cb_pct, 130, [0, 50, 100], ['0', '50', '100']),
    ('Central America/\nAmérica Central', [(ca_bnd, c_bnd), (ca_h3, c_h3), (ca_h1, c_h1)],
     ca_pct, 220, [0, 100, 200], ['0', '100', '200']),
    ('Andean/ Andina', [(an_bnd, c_bnd), (an_aunk, c_aunk), (an_h3, c_h3), (an_h1, c_h1)],
     an_pct, 800, [0, 200, 400, 600, 800], ['0', '200', '400', '600', '800']),
    ('Southern Cone/\nCono Sur', [(sc_bnd, c_bnd), (sc_aunk, c_aunk), (sc_h3, c_h3), (sc_h1, c_h1)],
     sc_pct, 1550, [0, 500, 1000, 1500], ['0', '500', '1000', '1500']),
]

lo_pad, hi_pad = 4 / 71, 75 / 71

for r, (label, cats, pct, ymax, yt, ytl) in enumerate(rows):
    top = row_tops[r]
    ax = fig.add_axes([fx(x0), fy(top + row_h), (x1 - x0) / W, row_h / H])
    ax2 = ax.twinx()
    for yi in range(len(years)):
        base = np.zeros(weeks_per_year[yi])
        for series, col in cats:
            vals = np.array(series[yi], dtype=float)
            if len(vals) == 0:
                continue
            n = len(vals)
            xs = year_start[yi] + np.arange(n) + 0.5
            ax.bar(xs, vals, width=1.0, bottom=base[:n], color=col,
                   edgecolor='#3d3d3d', linewidth=0.3)
            base[:n] += vals
        p = np.array(pct[yi], dtype=float) / 100
        xs = year_start[yi] + np.arange(len(p)) + 0.5
        ax2.plot(xs, p, color=c_flu, lw=1.5, solid_capstyle='round')

    ax.set_xlim(0, n_weeks)
    ax.set_ylim(-lo_pad * ymax, hi_pad * ymax)
    ax2.set_ylim(-lo_pad * 0.4, hi_pad * 0.4)
    for a in (ax, ax2):
        for s in a.spines.values():
            s.set_visible(False)
    ax.set_yticks(yt)
    ax.set_yticklabels(ytl)
    ax.tick_params(axis='y', labelsize=5.5, length=2, width=0.5, color='#8aa0b0',
                   labelcolor=txt_c, pad=1.5)
    ax2.set_yticks([0, 0.1, 0.2, 0.3, 0.4])
    ax2.set_yticklabels(['0%', '10%', '20%', '30%', '40%'])
    ax2.tick_params(axis='y', labelsize=5.5, length=2, width=0.5, color='#8aa0b0',
                    labelcolor=txt_c, pad=1.5)

    if r == len(rows) - 1:
        pos, lab = [], []
        for yi in range(len(years)):
            for w in week_ticks:
                if w <= weeks_per_year[yi]:
                    pos.append(year_start[yi] + w - 0.5)
                    lab.append(str(w))
        ax.set_xticks(pos)
        ax.set_xticklabels(lab, rotation=90, fontsize=4.5, color=txt_c)
        ax.tick_params(axis='x', length=2, width=0.5, color='#999999', pad=1)
    else:
        ax.set_xticks([])
    ax2.set_xticks([])

    yc = top + row_h / 2
    fig.text(fx(45), fy(yc), label, ha='center', va='center', fontsize=5.5,
             color=txt_c, linespacing=1.6)
    fig.text(fx(88), fy(yc), 'Number cases/ Numero\ncasos', ha='center', va='center',
             rotation=90, fontsize=5.2, color=txt_c, linespacing=1.2)
    fig.text(fx(972), fy(yc), '% influenza(+)', ha='center', va='center',
             rotation=270, fontsize=5.2, color=txt_c)

# separators
for y in row_tops + [row_tops[-1] + row_h]:
    fig.add_artist(Line2D([fx(5), fx(985)], [fy(y), fy(y)], color=grid_c, lw=0.8))
bounds = list(year_start) + [n_weeks]
for b in bounds:
    xp = x0 + b * (x1 - x0) / n_weeks
    fig.add_artist(Line2D([fx(xp), fx(xp)], [fy(32), fy(470)], color=grid_c, lw=0.8))
for yi, yr in enumerate(years):
    xc = x0 + (year_start[yi] + weeks_per_year[yi] / 2) * (x1 - x0) / n_weeks
    fig.text(fx(xc), fy(42), yr, ha='center', va='center', fontsize=5, color=txt_c)

# titles
title_kw = dict(fontsize=16.2, fontweight='bold', family='Liberation Serif', color='#2f6b88',
                va='center', ha='left')
fig.text(fx(12), fy(18), 'Influenza circulation by subregion, 2014-19', **title_kw)
fig.text(fx(458), fy(18), 'Circulación de virus influenza por subregión, 2014-19', **title_kw)

# footnote
fig.text(fx(510), fy(474), 'Please note that the flu (+) % line is computed with a 3 week average.',
         ha='center', va='center', fontsize=4.8, color='#444444')
fig.text(fx(510), fy(484), 'Tenes en cuenta que la línea de % de flu (+) se calcula con un promedio de 3 semanas.',
         ha='center', va='center', fontsize=4.8, color='#444444')

# legend
legend_items = [
    ('Influenza A (H1N1)pdm09', c_h1),
    ('Influenza A(H3N2)', c_h3),
    ('Influenza A No subtipificado', c_aunk),
    ('Influenza A not subtypeable/no subtipificable', c_anst),
    (' B Victoria', c_bvic),
    (' B Yamagata', c_byam),
    ('B linaje no determinado', c_bnd),
    ('% Flu (+)', c_flu),
]
legend_y = [544, 555, 566, 578, 590, 601, 613, 624]
fig.text(fx(493), fy(533), 'Influenza viruses / Virus de Influenza', ha='center', va='center',
         fontsize=5.5, color=txt_c)
for (name, col), yy in zip(legend_items, legend_y):
    fig.add_artist(Rectangle((fx(405), fy(yy + 3.5)), 7 / W, 7 / H, facecolor=col,
                             edgecolor='none', transform=fig.transFigure))
    fig.text(fx(415), fy(yy), name, ha='left', va='center', fontsize=5.5, color=txt_c)

fig.savefig('out.png', dpi=100, facecolor='white')
